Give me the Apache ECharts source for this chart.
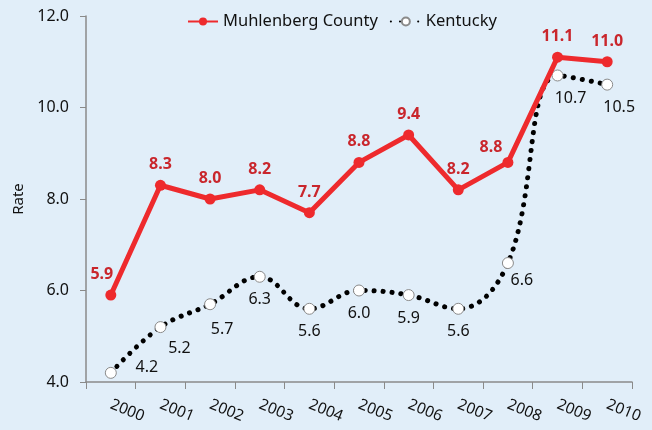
<!DOCTYPE html>
<html>
<head>
<meta charset="utf-8">
<script src="https://cdn.jsdelivr.net/npm/echarts@6/dist/echarts.min.js"></script>
<style>
  html, body { margin: 0; padding: 0; background: #e1eef9; }
  #chart { width: 652px; height: 430px; }
</style>
</head>
<body>
<div id="chart"></div>
<script>
// chart data
var years = ['2000', '2001', '2002', '2003', '2004', '2005', '2006', '2007', '2008', '2009', '2010'];
var muhlenberg = [5.9, 8.3, 8.0, 8.2, 7.7, 8.8, 9.4, 8.2, 8.8, 11.1, 11.0];
var kentucky = [4.2, 5.2, 5.7, 6.3, 5.6, 6.0, 5.9, 5.6, 6.6, 10.7, 10.5];
var yTicks = [4, 6, 8, 10, 12];

// label nudges (some labels sit off to one side of their point)
var muNudge = { 0: [-9, 0], 8: [-17, 6] };
var kyNudge = { 0: [36, -28], 1: [19, -2], 2: [12, 2], 8: [14, -6], 9: [13, 0], 10: [12, 0] };

var chart = echarts.init(document.getElementById('chart'), null, { renderer: 'canvas' });

var font = '"Noto Sans", "Open Sans", sans-serif';

function withNudge(values, nudge) {
    return values.map(function (v, i) {
        var n = nudge[i];
        return n ? { value: v, label: { offset: n } } : v;
    });
}

var option = {
    backgroundColor: '#e1eef9',
    animation: false,
    textStyle: { fontFamily: font },
    legend: {
        top: 8,
        left: 182,
        itemWidth: 30,
        itemHeight: 10,
        itemGap: 12,
        textStyle: { fontSize: 16.5, color: '#111', fontFamily: font },
        data: ['Muhlenberg County', 'Kentucky']
    },
    grid: { left: 86, right: 20, top: 16, bottom: 48 },
    xAxis: {
        type: 'category',
        data: years,
        boundaryGap: true,
        axisLine: { lineStyle: { color: '#8a8a8a', width: 1.5 } },
        axisTick: { show: true, length: 7, lineStyle: { color: '#8a8a8a' } },
        axisLabel: { interval: 0, rotate: -22, fontSize: 15.5, color: '#111', margin: 22, fontFamily: font }
    },
    yAxis: {
        type: 'value',
        min: yTicks[0],
        max: yTicks[yTicks.length - 1],
        interval: 2,
        name: 'Rate',
        nameLocation: 'middle',
        nameGap: 60,
        nameTextStyle: { fontSize: 15, color: '#111', fontFamily: font },
        splitLine: { show: false },
        axisLine: { show: true, lineStyle: { color: '#8a8a8a', width: 1.5 } },
        axisTick: { show: true, length: 6, lineStyle: { color: '#8a8a8a' } },
        axisLabel: {
            fontSize: 16, color: '#111', margin: 17, fontFamily: font,
            formatter: function (v) { return v.toFixed(1); }
        }
    },
    series: [
        {
            name: 'Muhlenberg County',
            type: 'line',
            data: withNudge(muhlenberg, muNudge),
            symbol: 'circle',
            symbolSize: 11,
            z: 3,
            itemStyle: { color: '#ee2a2d' },
            lineStyle: { color: '#ee2a2d', width: 5 },
            label: {
                show: true,
                position: 'top',
                distance: 7,
                fontSize: 16,
                fontWeight: 'bold',
                color: '#c9262c',
                fontFamily: font,
                formatter: function (p) { return p.value.toFixed(1); }
            },
            emphasis: { disabled: true }
        },
        {
            name: 'Kentucky',
            type: 'line',
            data: withNudge(kentucky, kyNudge),
            smooth: 0.4,
            symbol: 'circle',
            symbolSize: 11,
            z: 2,
            itemStyle: { color: '#ffffff', borderColor: '#8a8a8a', borderWidth: 1 },
            lineStyle: { color: '#000000', width: 5, type: [0.1, 9], cap: 'round' },
            label: {
                show: true,
                position: 'bottom',
                distance: 9,
                fontSize: 16,
                color: '#111',
                fontFamily: font,
                formatter: function (p) { return p.value.toFixed(1); }
            },
            emphasis: { disabled: true }
        }
    ]
};

chart.setOption(option);
</script>
</body>
</html>
